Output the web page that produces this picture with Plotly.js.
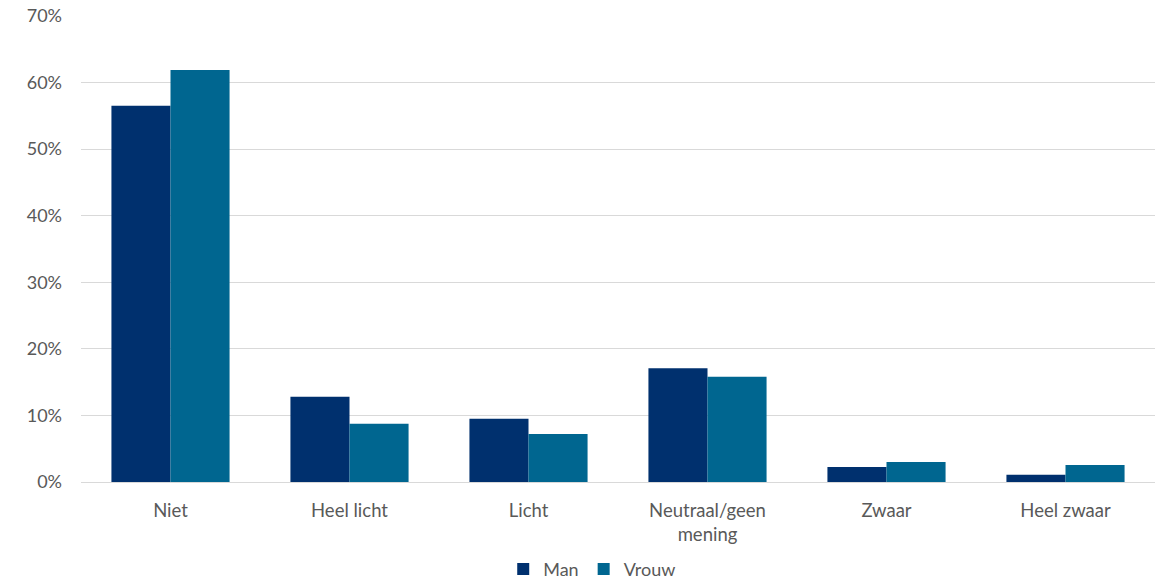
<!DOCTYPE html>
<html>
<head>
<meta charset="utf-8">
<script src="https://cdn.plot.ly/plotly-3.0.1.min.js"></script>
<style>html,body{margin:0;padding:0;background:#fff;}#chart{width:1160px;height:587px;}</style>
</head>
<body>
<div id="chart"></div>
<script>
const categories = ["Niet", "Heel licht", "Licht", "Neutraal/geen<br>mening", "Zwaar", "Heel zwaar"];
const manValues = [0.565, 0.128, 0.095, 0.171, 0.0225, 0.011];
const vrouwValues = [0.619, 0.0875, 0.072, 0.158, 0.030, 0.0255];
const yTickVals = [0, 0.1, 0.2, 0.3, 0.4, 0.5, 0.6, 0.7];
const yTickText = ["0%", "10%", "20%", "30%", "40%", "50%", "60%", "70%"];

const fontFam = "Lato, 'Open Sans', sans-serif";
const traces = [
  {type: "bar", name: "Man", x: categories, y: manValues, marker: {color: "#00306E"}},
  {type: "bar", name: "Vrouw", x: categories, y: vrouwValues, marker: {color: "#006690"}}
];
const layout = {
  width: 1160, height: 587,
  margin: {l: 81, r: 5, t: 16, b: 105, autoexpand: false},
  paper_bgcolor: "#fff", plot_bgcolor: "#fff",
  barmode: "group", bargap: 0.34, bargroupgap: 0,
  font: {family: fontFam, size: 18, color: "#595959"},
  xaxis: {showgrid: false, showline: true, linecolor: "#D9D9D9", linewidth: 1, ticks: "", tickfont: {size: 18.5, color: "#595959"}, ticklabelstandoff: 12, automargin: false},
  yaxis: {range: [0, 0.7], tickvals: yTickVals, ticktext: yTickText, showgrid: true, gridcolor: "#D9D9D9", gridwidth: 1, zeroline: false, showline: false, ticks: "", tickfont: {size: 18, color: "#595959"}, ticklabelstandoff: 18, automargin: false},
  showlegend: true,
  legend: {orientation: "h", x: 0.476, xanchor: "center", yref: "container", y: 0.03, yanchor: "middle", font: {size: 18, color: "#595959"}, itemwidth: 30, tracegroupgap: 0}
};
Plotly.newPlot("chart", traces, layout, {displayModeBar: false, staticPlot: true});
</script>
</body>
</html>
